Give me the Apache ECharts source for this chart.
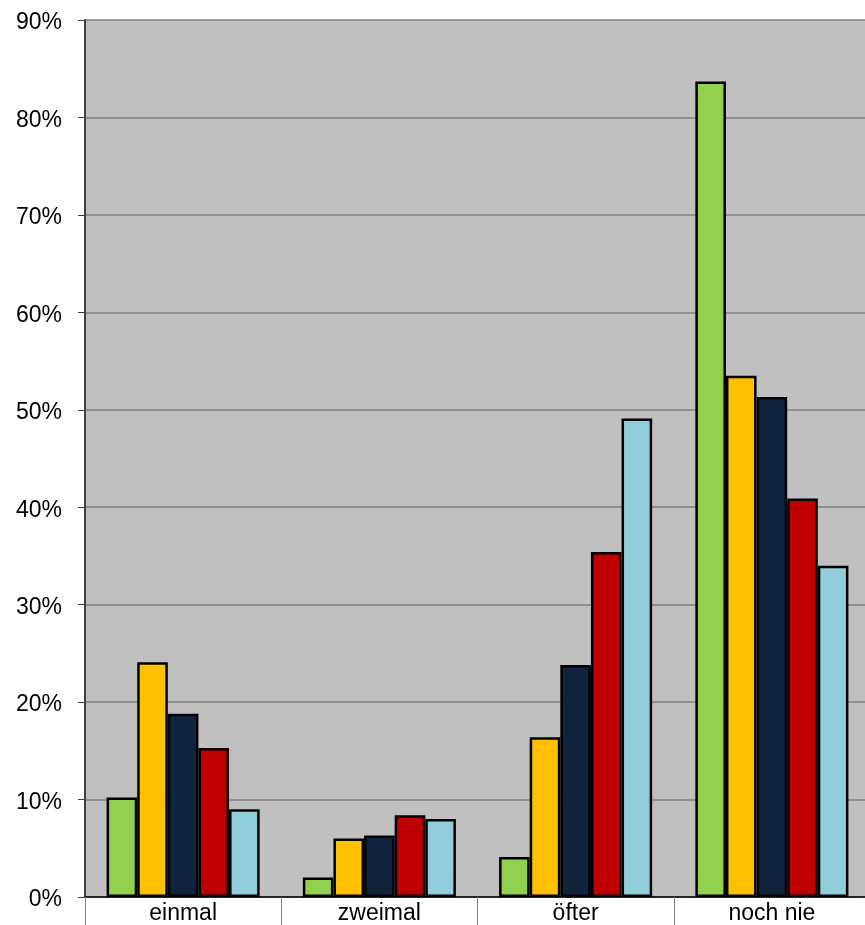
<!DOCTYPE html>
<html>
<head>
<meta charset="utf-8">
<script src="https://cdn.jsdelivr.net/npm/echarts@6/dist/echarts.min.js"></script>
<style>html,body{margin:0;padding:0;background:#fff;}#c{width:865px;height:925px;}</style>
</head>
<body>
<div id="c"></div>
<script>
const categories = ['einmal', 'zweimal', 'öfter', 'noch nie'];
const s1 = [10.2, 2.0, 4.1, 83.7];
const s2 = [24.1, 6.0, 16.4, 53.5];
const s3 = [18.8, 6.3, 23.8, 51.3];
const s4 = [15.3, 8.4, 35.4, 40.9];
const s5 = [9.0, 8.0, 49.1, 34.0];
const colors = ['#92D050', '#FFC000', '#10243E', '#C00000', '#92CDDC'];
const seriesData = [s1, s2, s3, s4, s5];

const chart = echarts.init(document.getElementById('c'));
const font = 'Liberation Sans, Arial, sans-serif';
chart.setOption({
  animation: false,
  grid: {
    left: 85, top: 20, width: 785, height: 877,
    outerBoundsMode: 'none', containLabel: false,
    show: true, backgroundColor: '#C0C0C0', borderWidth: 0
  },
  xAxis: {
    type: 'category',
    data: categories,
    axisLine: { show: true, lineStyle: { color: '#000', width: 1.5 } },
    axisTick: { show: true, interval: 0, length: 28, lineStyle: { color: '#808080', width: 1 } },
    axisLabel: { color: '#000', fontSize: 23, fontFamily: font, margin: 5, interval: 0 }
  },
  yAxis: {
    type: 'value',
    min: 0, max: 90, interval: 10,
    axisLine: { show: true, lineStyle: { color: '#404040', width: 2 } },
    axisTick: { show: true, length: 7, lineStyle: { color: '#404040', width: 1 } },
    splitLine: { show: true, lineStyle: { color: '#808080', width: 1.5 } },
    axisLabel: {
      color: '#000', fontSize: 23, fontFamily: font, margin: 23,
      formatter: v => '{a|' + v + '%}',
      rich: { a: { fontSize: 23, fontFamily: font, color: '#000', padding: [6, 0, 0, 0] } }
    }
  },
  series: seriesData.map((d, i) => ({
    type: 'bar',
    data: d,
    barGap: '0%',
    barCategoryGap: '22%',
    itemStyle: { color: colors[i], borderColor: '#000', borderWidth: 2.5 }
  }))
});
</script>
</body>
</html>
